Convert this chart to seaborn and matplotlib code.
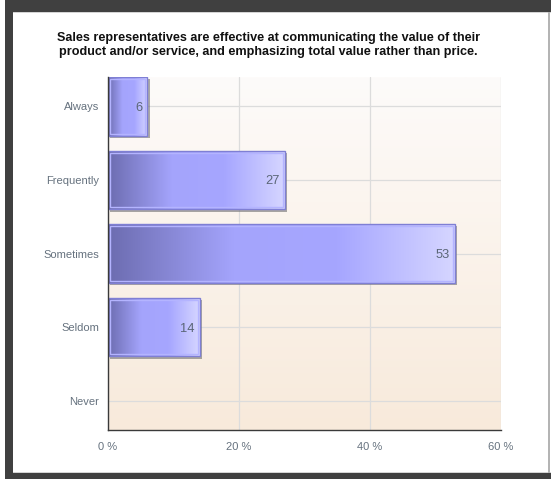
import numpy as np
import matplotlib
matplotlib.use("Agg")
import matplotlib.pyplot as plt
import matplotlib.patheffects as pe
from matplotlib.patches import Rectangle
from matplotlib.colors import LinearSegmentedColormap
import seaborn as sns

# Survey responses (percent of respondents)
categories = ["Always", "Frequently", "Sometimes", "Seldom", "Never"]
percents = [6, 27, 53, 14, 0]
x_ticks = [0, 20, 40, 60]
x_tick_labels = ["0 %", "20 %", "40 %", "60 %"]
title = ("Sales representatives are effective at communicating the value of their\n"
         "product and/or service, and emphasizing total value rather than price.")

sns.set_theme(style="white")
plt.rcParams["font.family"] = ["Liberation Sans", "DejaVu Sans"]

W, H = 551, 479
fig = plt.figure(figsize=(W / 100, H / 100), dpi=100)
fig.patch.set_facecolor("white")

ax = fig.add_axes([108 / W, 1 - 430 / H, (501 - 108) / W, (430 - 77) / H])

sns.barplot(x=percents, y=categories, orient="h", width=0.8,
            color="#a6a6ff", ax=ax, zorder=3)

ax.set_xlim(0, 60)
ax.set_ylim(4.4, -0.4)
ax.set_autoscale_on(False)

# Warm vertical background wash
bg = LinearSegmentedColormap.from_list("bg", ["#f8eadb", "#fdfbfa"])
ax.imshow(np.linspace(0, 1, 256).reshape(-1, 1)[::-1], cmap=bg,
          extent=[0, 1, 0, 1], transform=ax.transAxes, aspect="auto",
          zorder=0, interpolation="bilinear")
ax.set_xlim(0, 60)
ax.set_ylim(4.4, -0.4)

# Grid
ax.set_xticks(x_ticks)
ax.set_xticklabels(x_tick_labels)
ax.grid(True, color="#dcdcdc", lw=0.9, zorder=1)
ax.set_axisbelow(True)

# Bar shading along each bar's length
bar_cmap = LinearSegmentedColormap.from_list(
    "bar", [(0.0, "#6c6cb0"), (0.36, "#a4a4fc"), (0.66, "#a6a6ff"), (1.0, "#d6d6ff")])
grad = np.linspace(0, 1, 256).reshape(1, -1)
for patch, val in zip(ax.patches, percents):
    if val <= 0:
        patch.set_visible(False)
        continue
    x0, y0 = patch.get_x(), patch.get_y()
    w, h = patch.get_width(), patch.get_height()
    patch.set_edgecolor("none")
    patch.set_path_effects([pe.SimplePatchShadow(offset=(1.6, -1.6),
                                                 shadow_rgbFace="#707070", alpha=0.6),
                            pe.Normal()])
    im = ax.imshow(grad, cmap=bar_cmap, extent=[x0, x0 + w, y0 + h, y0],
                   aspect="auto", zorder=3.1, interpolation="bilinear")
    im.set_clip_path(patch)
    dx, dy = 0.3, 0.03
    ax.add_patch(Rectangle((x0 + dx, y0 + dy), w - 2 * dx, h - 2 * dy, fill=False,
                           edgecolor="#b4b4ff", lw=1.0, zorder=3.2))
    ax.add_patch(Rectangle((x0, y0), w, h, fill=False,
                           edgecolor="#7f7fd4", lw=1.0, zorder=3.3))
    ax.text(x0 + w - 0.8, y0 + h / 2, f"{val}", ha="right", va="center_baseline",
            fontsize=9.3, color="#5b6677", zorder=4)

ax.set_xlim(0, 60)
ax.set_ylim(4.4, -0.4)

# Axes styling
for side in ["top", "right"]:
    ax.spines[side].set_visible(False)
for side in ["left", "bottom"]:
    ax.spines[side].set_color("#3a3a3a")
    ax.spines[side].set_linewidth(1.0)
    ax.spines[side].set_zorder(5)
ax.tick_params(axis="both", which="both", direction="out", length=4.5, width=1.0,
               color="#3a3a3a", labelsize=8, labelcolor="#66727f", pad=2)
ax.tick_params(axis="x", pad=4)
ax.set_xlabel("")
ax.set_ylabel("")

fig.text(0.487, 1 - 45 / H, title, ha="center", va="center", fontsize=9.05,
         fontweight="bold", color="#111111", linespacing=1.25)

# Page frame
def frame_rect(x, y, w, h, color):
    fig.patches.append(Rectangle((x / W, 1 - (y + h) / H), w / W, h / H,
                                 transform=fig.transFigure, color=color,
                                 lw=0, zorder=10))

frame_rect(5, 0, W - 5, 12, "#404040")
frame_rect(5, 0, 8, H, "#404040")
frame_rect(5, 473, W - 5, 6, "#404040")
frame_rect(13, 12, W - 13, 1.2, "#d4d4d4")
frame_rect(13, 471.8, W - 13, 1.2, "#d4d4d4")
frame_rect(548, 12, 2, 461, "#b4b4b4")

fig.savefig("out.png", dpi=100)
